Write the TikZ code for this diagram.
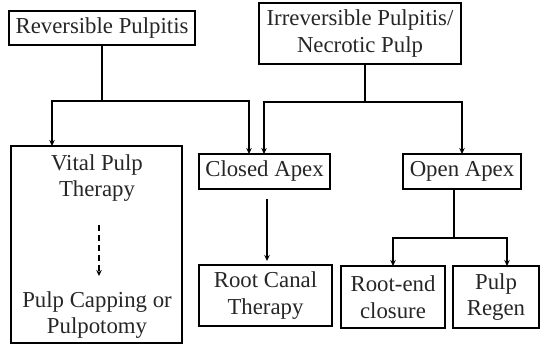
\documentclass[tikz,border=0pt]{standalone}
\usepackage{fontspec}
\setmainfont{Liberation Serif}
\usetikzlibrary{arrows.meta}
\begin{document}
\begin{tikzpicture}[x=1pt,y=-1pt,
  font=\fontsize{22.8}{26.5}\selectfont,
  box/.style={draw, line width=1.7pt, inner sep=0pt, align=center, text=black!85},
  txt/.style={inner sep=0pt, align=center, text=black!85},
  link/.style={line width=1.6pt},
  conn/.style={line width=1.6pt, -{Stealth[length=6pt,width=5.5pt]}}]
\useasboundingbox (0,0) rectangle (541,344);
% boxes
\node[box, minimum width=186pt, minimum height=34pt] (rev) at (102,28) {Reversible Pulpitis};
\node[box, minimum width=202pt, minimum height=61pt] (irr) at (360,33.5) {Irreversible Pulpitis/\\Necrotic Pulp};
\node[box, minimum width=171pt, minimum height=197pt] (vital) at (96.5,244.5) {};
\node[txt] (vpt) at (97,178) {Vital Pulp\\Therapy};
\node[txt] (pcp) at (97,315) {Pulp Capping or\\Pulpotomy};
\node[box, minimum width=131pt, minimum height=35pt] (closed) at (264.5,171.5) {Closed Apex};
\node[box, minimum width=118pt, minimum height=35pt] (open) at (462,171.5) {Open Apex};
\node[box, minimum width=133pt, minimum height=61pt] (rct) at (265.5,295.5) {Root Canal\\Therapy};
\node[box, minimum width=104pt, minimum height=62pt] (rec) at (393,297) {Root-end\\closure};
\node[box, minimum width=86pt, minimum height=62pt] (regen) at (496,297) {Pulp\\Regen};
% junction points
\coordinate (r0) at (101.7,45);
\coordinate (r1) at (101.7,101);
\coordinate (rl) at (52,101);
\coordinate (rr) at (249,101);
\coordinate (vin) at (52,146);
\coordinate (cinl) at (249,154);
\coordinate (i0) at (365,64);
\coordinate (i1) at (365,102);
\coordinate (il) at (264,102);
\coordinate (ir) at (462,102);
\coordinate (cinr) at (264,154);
\coordinate (oin) at (462,154);
\coordinate (c0) at (267,199);
\coordinate (c1) at (267,261);
\coordinate (o0) at (454,189);
\coordinate (o1) at (454,238);
\coordinate (ol) at (393,238);
\coordinate (or) at (507,238);
\coordinate (recin) at (393,266);
\coordinate (regin) at (507,266);
\coordinate (d0) at (99,225);
\coordinate (d1) at (99,276);
% connectors
\draw[link] (r0) -- (r1);
\draw[conn] (r1) -- (rl) -- (vin);
\draw[conn] (r1) -- (rr) -- (cinl);
\draw[link] (i0) -- (i1);
\draw[conn] (i1) -- (il) -- (cinr);
\draw[conn] (i1) -- (ir) -- (oin);
\draw[conn] (c0) -- (c1);
\draw[link] (o0) -- (o1);
\draw[conn] (o1) -- (ol) -- (recin);
\draw[conn] (o1) -- (or) -- (regin);
\draw[conn, dash pattern=on 6pt off 4pt] (d0) -- (d1);
\end{tikzpicture}
\end{document}
